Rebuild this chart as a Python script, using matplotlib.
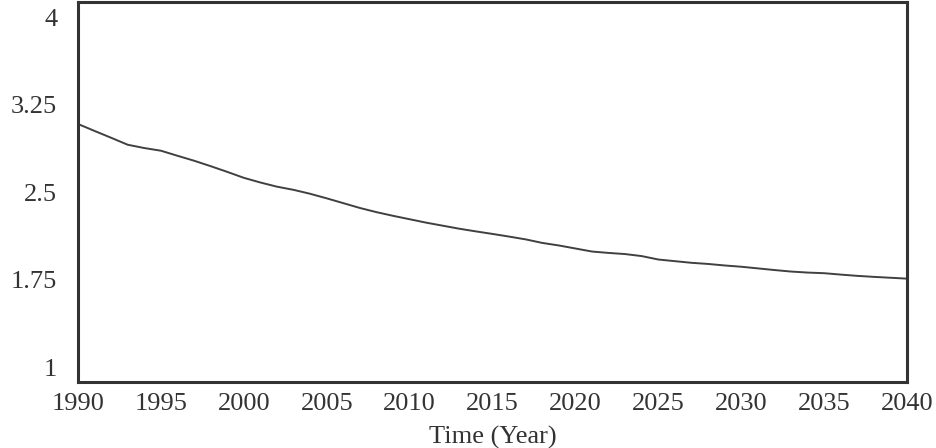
import matplotlib
matplotlib.use("Agg")
import matplotlib.pyplot as plt
import matplotlib.transforms as mtransforms

# Simulated trajectory, one value per year
years = list(range(1990, 2041))
values = [
    3.037, 2.982, 2.928, 2.873, 2.847, 2.826, 2.786, 2.747, 2.704, 2.659,
    2.612, 2.575, 2.542, 2.517, 2.486, 2.450, 2.412, 2.374, 2.341, 2.312,
    2.285, 2.258, 2.234, 2.210, 2.189, 2.169, 2.148, 2.126, 2.098, 2.078,
    2.054, 2.030, 2.019, 2.010, 1.994, 1.967, 1.954, 1.941, 1.932, 1.920,
    1.910, 1.897, 1.884, 1.872, 1.864, 1.859, 1.848, 1.838, 1.830, 1.823,
    1.816,
]

x_ticks = list(range(1990, 2041, 5))
y_ticks = [1, 1.75, 2.5, 3.25, 4]
y_tick_labels = ["1", "1.75", "2.5", "3.25", "4"]
x_label = "Time (Year)"

ink = "#333333"
font = "Liberation Serif"
fs = 19

fig = plt.figure(figsize=(9.37, 4.48), dpi=100)
ax = fig.add_axes([78 / 937, 1 - 382 / 448, (907 - 78) / 937, (382 - 2) / 448])

ax.plot(years, values, color="#404040", linewidth=1.4)

ax.set_xlim(1990, 2040)
ax.set_ylim(1, 4)

ax.set_xticks(x_ticks)
ax.set_xticklabels([str(t) for t in x_ticks], fontfamily=font, fontsize=fs, color=ink)
ax.set_yticks(y_ticks)
ax.set_yticklabels(y_tick_labels, fontfamily=font, fontsize=fs, color=ink)
ax.tick_params(axis="both", length=0)
ax.tick_params(axis="x", pad=8)
ax.tick_params(axis="y", pad=15)

# Pull the end labels inside the frame: spread labels evenly between
# 15 px below the top and 15 px above the bottom
for lbl, v in zip(ax.get_yticklabels(), y_ticks):
    f = (v - 1) / 3
    dy = (15 - 30 * f) / 100.0
    lbl.set_transform(lbl.get_transform() + mtransforms.ScaledTranslation(0, dy, fig.dpi_scale_trans))

ax.set_xlabel(x_label, fontfamily=font, fontsize=fs, color=ink, labelpad=8)

for sp in ax.spines.values():
    sp.set_color(ink)
    sp.set_linewidth(2.2)

fig.savefig("out.png", dpi=100, facecolor="white")
